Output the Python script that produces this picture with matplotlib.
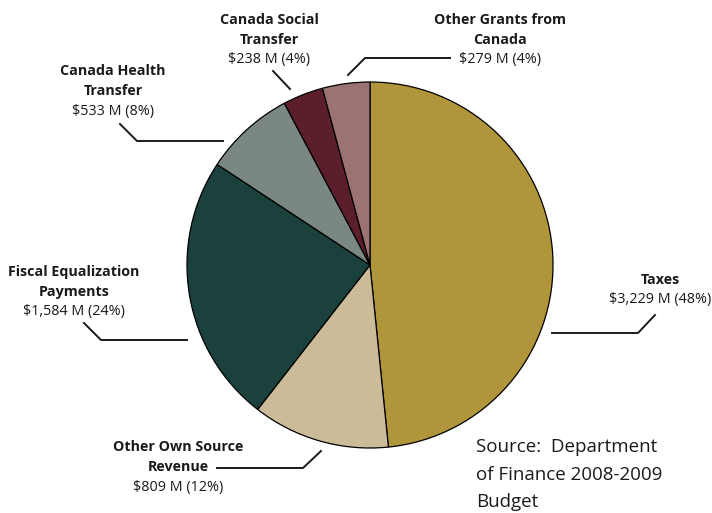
import matplotlib.pyplot as plt

# Provincial revenue sources, millions of dollars
sources = ["Taxes", "Other Own Source\nRevenue", "Fiscal Equalization\nPayments",
           "Canada Health\nTransfer", "Canada Social\nTransfer", "Other Grants from\nCanada"]
amounts = [3229, 809, 1584, 533, 238, 279]
colors = ["#B0953A", "#CBBB99", "#1B413D", "#7A8782", "#5C1E2B", "#9B7373"]

W, H = 712, 513
fig = plt.figure(figsize=(W / 100, H / 100), dpi=100)
ax = fig.add_axes([0, 0, 1, 1])

def py(y):
    # pixel row -> axis y
    return H - y

ax.pie(amounts, colors=colors, startangle=90, counterclock=False,
       center=(370, py(265)), radius=183, frame=True,
       wedgeprops=dict(edgecolor="black", linewidth=0.9))
ax.set_xlim(0, W)
ax.set_ylim(0, H)
ax.set_aspect("equal")
ax.axis("off")

total = sum(amounts)
fam = ["Open Sans", "DejaVu Sans"]

# label position (center x, top line y) and leader line points, per slice
label_pos = [(660, 280), (178, 447), (74, 272), (113, 71), (269, 20), (500, 20)]
leaders = [
    [(655, 315), (638, 333), (552, 333)],
    [(321, 451), (303, 468), (217, 468)],
    [(84, 323), (101, 340), (187, 340)],
    [(120, 124), (137, 141), (223, 141)],
    [(273, 71), (290, 89)],
    [(348, 75), (365, 58), (450, 58)],
]

for name, amt, (x, y), pts in zip(sources, amounts, label_pos, leaders):
    lines = name.split("\n")
    for i, ln in enumerate(lines):
        ax.text(x, py(y + 20 * i), ln, ha="center", va="center",
                fontsize=10.3, fontweight="bold", family=fam, color="#1a1a1a")
    pct = round(100 * amt / total)
    ax.text(x, py(y + 20 * len(lines)), f"${amt:,} M ({pct}%)", ha="center",
            va="center", fontsize=10.4, family=fam, color="#1a1a1a")
    ax.plot([p[0] for p in pts], [py(p[1]) for p in pts], color="#1a1a1a", lw=1.4)

source_lines = ["Source:  Department", "of Finance 2008-2009", "Budget"]
for i, ln in enumerate(source_lines):
    ax.text(476, py(447 + 27.5 * i), ln, ha="left", va="center",
            fontsize=13.5, family=fam, color="#1a1a1a")

fig.savefig("out.png", dpi=100)
